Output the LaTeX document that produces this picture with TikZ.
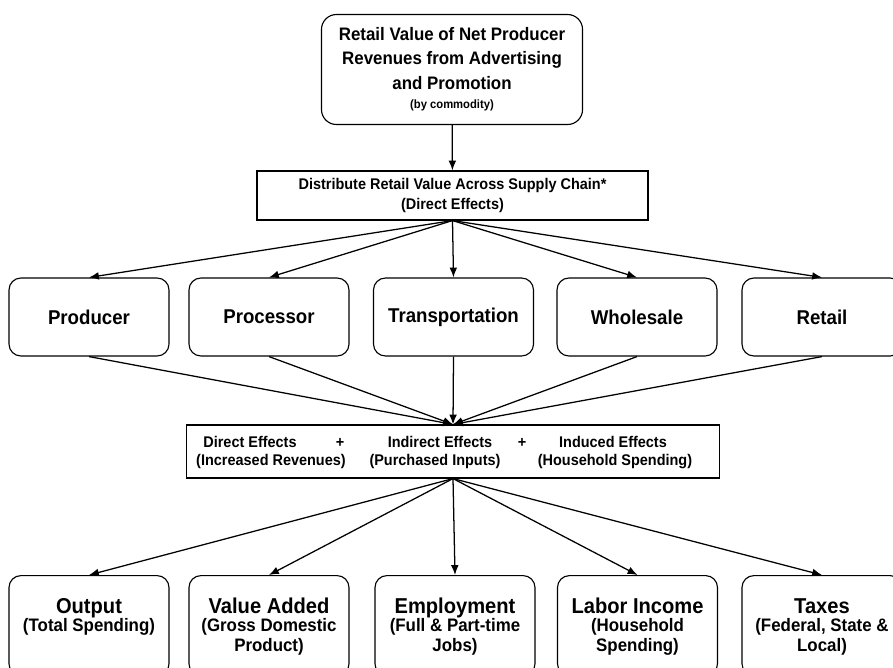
\documentclass[tikz,border=0pt]{standalone}
\usepackage{fontspec}
\setmainfont[FakeStretch=0.935]{Liberation Sans}
\usetikzlibrary{arrows.meta}

\begin{document}
\begin{tikzpicture}[x=0.025cm,y=-0.025cm]
\tikzset{align=center,
	font=\bfseries}
\tikzset{roundbox/.style = {shape=rectangle,draw,line width=0.8pt,rounded corners=0.3cm,minimum width=4cm,inner sep=2pt}}
\tikzset{flatbox/.style = {shape=rectangle,draw,line width=0.8pt,inner sep=2pt}}
\tikzset{chainbox/.style = {roundbox,minimum height=1.95cm,font=\fontsize{14.2}{16}\selectfont\bfseries}}
\tikzset{resultbox/.style = {roundbox,anchor=north,minimum height=2.5cm,text height=39.9pt,text depth=3pt,font=\fontsize{12.85}{14.2}\selectfont\bfseries}}
\tikzset{efftext/.style = {inner sep=0pt,text height=0.75em,text depth=0.25em,font=\fontsize{11}{14.2}\selectfont\bfseries}}
\tikzset{edge/.style = {-{Latex[length=7pt,width=5.5pt]},line width=0.9pt}}
\useasboundingbox (0,0) rectangle (893,667);
\clip (0,0) rectangle (893,667);
% boxes
\node[roundbox,rounded corners=0.375cm,minimum width=6.525cm,minimum height=2.75cm,font=\fontsize{12.85}{17.2}\selectfont\bfseries] (netrev) at (452,69.5) {Retail Value of Net Producer\\Revenues from Advertising\\and Promotion\\[-3pt]{\fontsize{8.55}{10}\selectfont (by commodity)}};
\node[flatbox,minimum width=9.775cm,minimum height=1.225cm,font=\fontsize{11}{14.2}\selectfont\bfseries] (chain) at (452.5,195.5) {Distribute Retail Value Across Supply Chain*\\(Direct Effects)};

\node[chainbox] (producer) at (89,317) {Producer};
\node[chainbox] (processor) at (269,317) {Processor};
\node[chainbox] (transport) at (453.5,317) {Transportation};
\node[chainbox] (wholesale) at (637,317) {Wholesale};
\node[chainbox] (retail) at (822,317) {Retail};

\node[flatbox,minimum width=13.3cm,minimum height=1.325cm] (effects) at (453,451.5) {};
\node[efftext] (direct) at (250,443.6) {Direct Effects};
\node[efftext] (plusa) at (340,443.6) {+};
\node[efftext] (indirect) at (440,443.6) {Indirect Effects};
\node[efftext] (plusb) at (522,443.6) {+};
\node[efftext] (induced) at (613,443.6) {Induced Effects};
\node[efftext] (directsub) at (271,462) {(Increased Revenues)};
\node[efftext] (indirectsub) at (435,462) {(Purchased Inputs)};
\node[efftext] (inducedsub) at (615,462) {(Household Spending)};

\node[resultbox] (output) at (89,575) {{\fontsize{15.3}{14.2}\selectfont Output}\\[-1.4pt](Total Spending)\\\mbox{}};
\node[resultbox] (valueadd) at (269,575) {{\fontsize{15.3}{14.2}\selectfont Value Added}\\[-1.4pt](Gross Domestic\\Product)};
\node[resultbox] (employ) at (455,575) {{\fontsize{15.3}{14.2}\selectfont Employment}\\[-1.4pt](Full \& Part-time\\Jobs)};
\node[resultbox] (labor) at (637.5,575) {{\fontsize{15.3}{14.2}\selectfont Labor Income}\\[-1.4pt](Household\\Spending)};
\node[resultbox] (taxes) at (822,575) {{\fontsize{15.3}{14.2}\selectfont Taxes}\\[-1.4pt](Federal, State \&\\Local)};

%edges
\draw[edge] (netrev) to (chain);

\draw[edge] (chain.south) to (producer.north);
\draw[edge] (chain.south) to (processor.north);
\draw[edge] (chain.south) to (transport.north);
\draw[edge] (chain.south) to (wholesale.north);
\draw[edge] (chain.south) to (retail.north);

\draw[edge] (producer.south) to (effects.north);
\draw[edge] (processor.south) to (effects.north);
\draw[edge] (transport.south) to (effects.north);
\draw[edge] (wholesale.south) to (effects.north);
\draw[edge] (retail.south) to (effects.north);

\draw[edge] (effects.south) to (output.north);
\draw[edge] (effects.south) to (valueadd.north);
\draw[edge] (effects.south) to (employ.north);
\draw[edge] (effects.south) to (labor.north);
\draw[edge] (effects.south) to (taxes.north);
\end{tikzpicture}
\end{document}
